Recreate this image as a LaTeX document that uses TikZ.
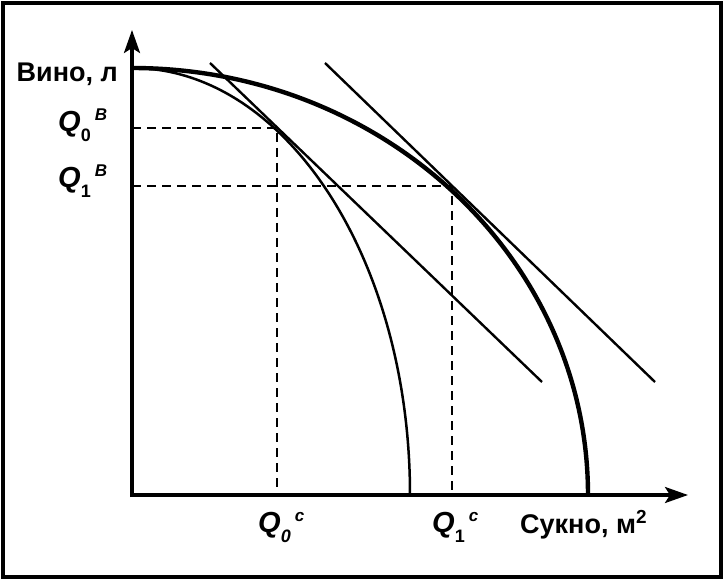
\documentclass[tikz,border=0pt]{standalone}
\usepackage{fontspec}
\setmainfont{Liberation Sans}
\usetikzlibrary{arrows.meta}
\newcommand\qlab[4]{{\fontsize{29}{29}\selectfont\bfseries\itshape Q}\raisebox{-10pt}{\fontsize{18}{18}\selectfont\bfseries #1#2}\hspace{4pt}\raisebox{11pt}{\fontsize{#4}{#4}\selectfont\bfseries\itshape #3}}
\begin{document}
\begin{tikzpicture}[x=1pt,y=1pt,
  axis/.style={line width=3.2pt,-{Stealth[length=23pt,width=16pt,inset=5pt]}},
  ppfthick/.style={line width=4.4pt},
  ppfthin/.style={line width=2.5pt},
  tangent/.style={line width=2.4pt},
  guide/.style={line width=2.3pt,dash pattern=on 9pt off 6pt},
  lbl/.style={font=\fontsize{27}{27}\selectfont\bfseries,inner sep=0pt},
  qnode/.style={inner sep=0pt}]
\useasboundingbox (0,0) rectangle (728,582);
\draw[line width=3.5pt] (3,5) rectangle (721,579);
% coordinates
\coordinate (O) at (132,87);
\coordinate (Ytip) at (132,552);
\coordinate (Xtip) at (688,87);
\coordinate (A0) at (132,514);
\coordinate (P0) at (277,454);
\coordinate (P1) at (452,396);
\coordinate (Y0) at (132,454);
\coordinate (X0) at (277,87);
\coordinate (Y1) at (132,396);
\coordinate (X1) at (452,87);
\coordinate (T0a) at (210,519);
\coordinate (T0b) at (542,200);
\coordinate (T1a) at (325,519);
\coordinate (T1b) at (655,200);
% dashed guides
\draw[guide] (Y0) -- (P0) -- (X0);
\draw[guide] (Y1) -- (P1) -- (X1);
% curves
\draw[ppfthin] (A0) arc[start angle=90,end angle=0,x radius=278pt,y radius=427pt];
\draw[ppfthick] (A0) arc[start angle=90,end angle=0,x radius=456pt,y radius=427pt];
% tangents
\draw[tangent] (T0a) -- (T0b);
\draw[tangent] (T1a) -- (T1b);
% axes
\draw[axis] ([yshift=-2pt]O) -- (Ytip);
\draw[axis] ([xshift=-1.5pt]O) -- (Xtip);
% labels
\node[lbl,anchor=base east] (vino) at (118,500) {Вино, л};
\node[lbl,anchor=base west] (sukno) at (520,49) {Сукно, м\textsuperscript{2}};
\node[qnode,anchor=base west] (q0v) at (58,450) {\qlab{\upshape}{0}{В}{17}};
\node[qnode,anchor=base west] (q1v) at (58,394) {\qlab{\upshape}{1}{В}{17}};
\node[qnode,anchor=base west] (q0c) at (258,50) {\qlab{\itshape}{0}{c}{17}};
\node[qnode,anchor=base west] (q1c) at (432,50) {\qlab{\upshape}{1}{c}{17}};
\end{tikzpicture}
\end{document}
